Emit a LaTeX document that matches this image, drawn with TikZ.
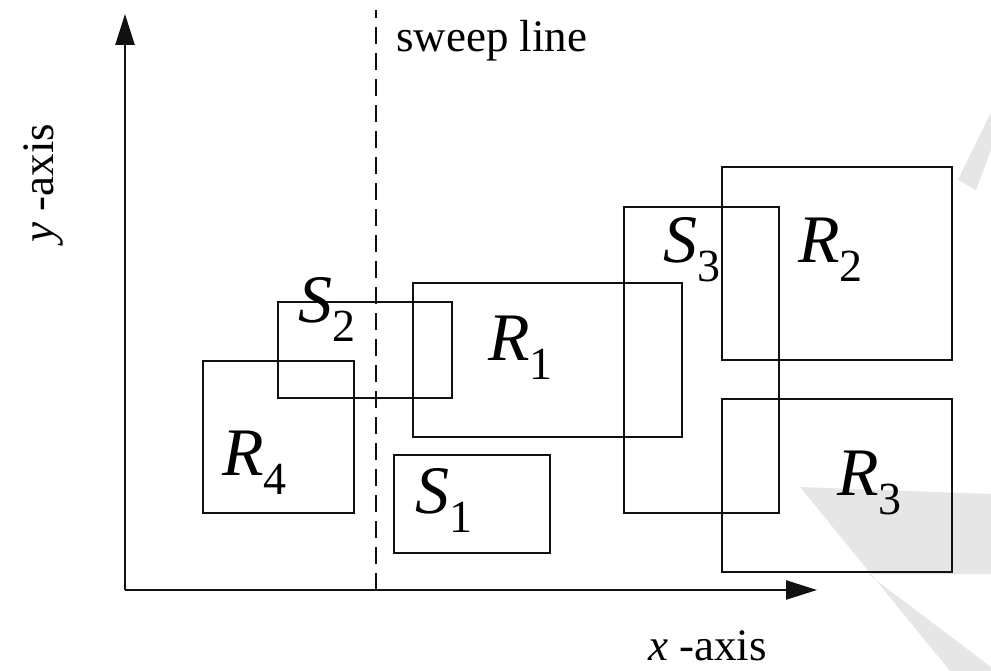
\documentclass[tikz,border=0pt]{standalone}
\usepackage{fontspec}
\setmainfont{Liberation Serif}
\usetikzlibrary{arrows.meta,positioning}
\definecolor{ink}{HTML}{111111}
\definecolor{wmgray}{HTML}{E6E6E6}
\newcommand{\boxlab}[2]{\textit{#1}\raisebox{-19pt}{\fontsize{46}{46}\selectfont #2}}
\tikzset{
  rect/.style={draw=ink,line width=2.7pt},
  axisline/.style={draw=ink,line width=2.4pt,-{Triangle[length=31pt,width=19pt]}},
  sweepline/.style={draw=ink,line width=2.2pt,dash pattern=on 17pt off 9pt},
  boxlabel/.style={anchor=base west,inner sep=0pt,font=\fontsize{68}{68}\selectfont},
  axislabel/.style={inner sep=0pt,font=\fontsize{45}{45}\selectfont}
}
\begin{document}
\begin{tikzpicture}[x=1pt,y=-1pt]
    \useasboundingbox (0,0) rectangle (991,671);
    % faint mark behind the plot
    \fill[wmgray] (800,487) -- (991,494) -- (991,574) -- (868,574) -- (991,667)
      -- (991,671) -- (950,671) -- cycle;
    \fill[wmgray] (958,180) -- (976,190) -- (991,150) -- (991,112) -- cycle;
    % axes and sweep line
    \coordinate (origin) at (125,590);
    \coordinate (ytip) at (125,14);
    \coordinate (xtip) at (817,590);
    \coordinate (sweepbot) at (376,590);
    \coordinate (sweeptop) at (376,10);
    \draw[axisline] (origin) -- (ytip);
    \draw[axisline] (origin) -- (xtip);
    \draw[sweepline] (sweepbot) -- (sweeptop);
    \node[axislabel,anchor=base west] (sweeplab) at (396,52) {sweep line};
    \node[axislabel,anchor=base west,text depth=0pt] (xlab) at (648,660) {\textit{x} -axis};
    \node[axislabel,rotate=90] (ylab) at (43,183) {\textit{y} -axis};
    % rectangles
    \draw[rect] (203,361) rectangle (354,513);
    \draw[rect] (278,302) rectangle (452,398);
    \draw[rect] (413,283) rectangle (682,437);
    \draw[rect] (394,455) rectangle (550,553);
    \draw[rect] (624,207) rectangle (779,513);
    \draw[rect] (722,167) rectangle (952,360);
    \draw[rect] (722,399) rectangle (952,572);
    % labels
    \node[boxlabel] (r4) at (222,475) {\boxlab{R}{4}};
    \node[boxlabel] (s2) at (298,322) {\boxlab{S}{2}};
    \node[boxlabel] (r1) at (488,360) {\boxlab{R}{1}};
    \node[boxlabel] (s1) at (415,513) {\boxlab{S}{1}};
    \node[boxlabel] (s3) at (663,262) {\boxlab{S}{3}};
    \node[boxlabel] (r2) at (798,262) {\boxlab{R}{2}};
    \node[boxlabel] (r3) at (837,495) {\boxlab{R}{3}};
\end{tikzpicture}
\end{document}
